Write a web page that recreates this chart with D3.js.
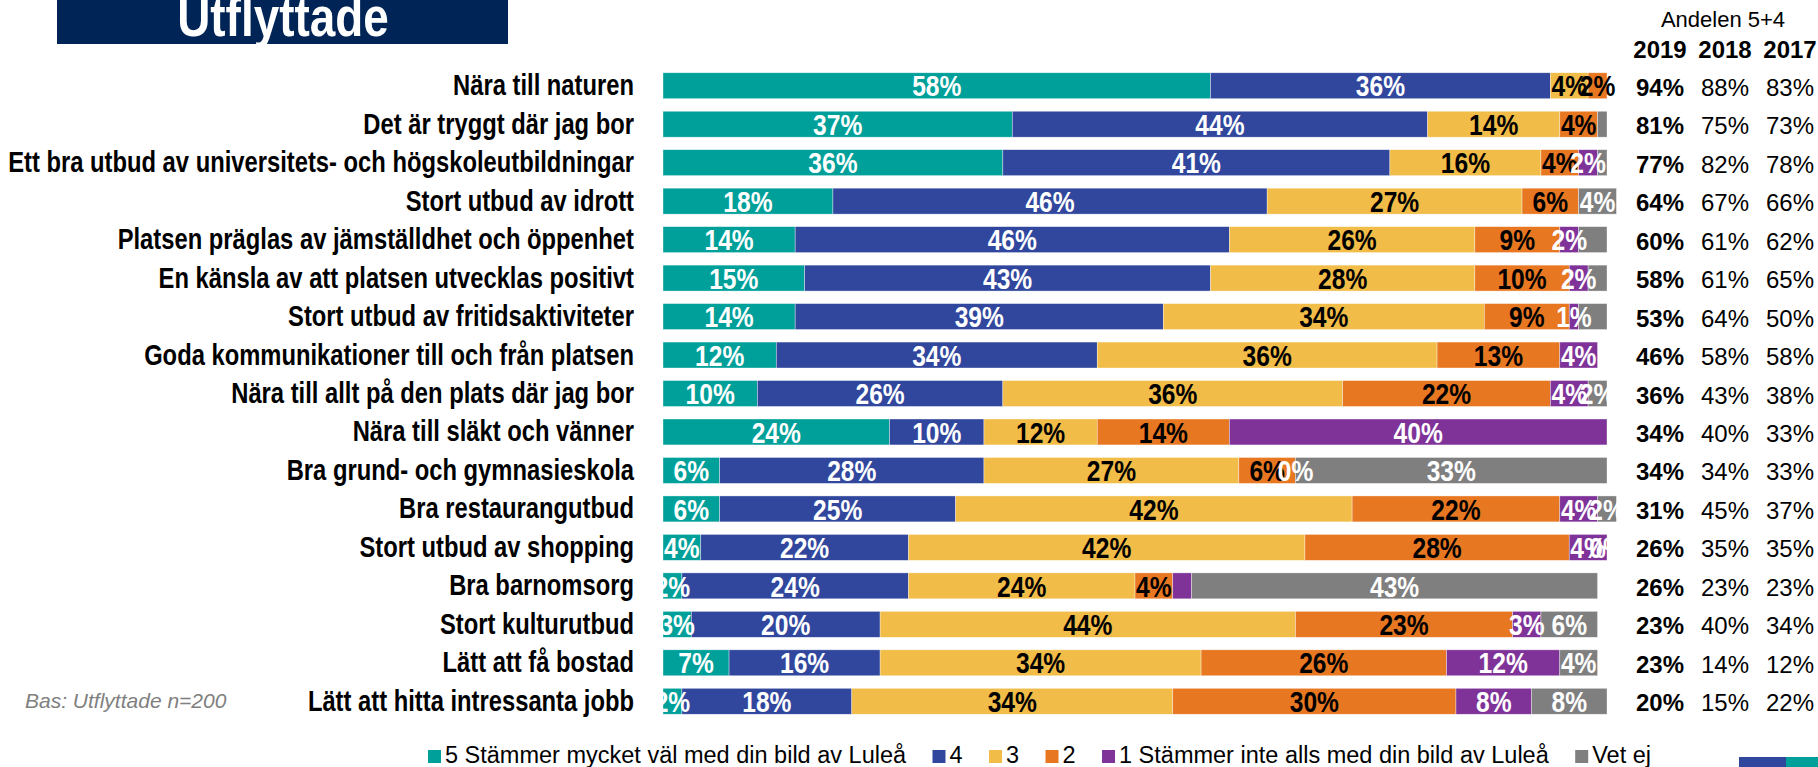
<!DOCTYPE html>
<html>
<head>
<meta charset="utf-8">
<script src="https://cdn.jsdelivr.net/npm/d3@7"></script>
<style>
  html, body { margin: 0; padding: 0; background: #ffffff; }
  svg { display: block; font-family: "Liberation Sans", Arial, sans-serif; }
</style>
</head>
<body>
<script>
// ---------- DATA ----------
const categories = [
  "Nära till naturen",
  "Det är tryggt där jag bor",
  "Ett bra utbud av universitets- och högskoleutbildningar",
  "Stort utbud av idrott",
  "Platsen präglas av jämställdhet och öppenhet",
  "En känsla av att platsen utvecklas positivt",
  "Stort utbud av fritidsaktiviteter",
  "Goda kommunikationer till och från platsen",
  "Nära till allt på den plats där jag bor",
  "Nära till släkt och vänner",
  "Bra grund- och gymnasieskola",
  "Bra restaurangutbud",
  "Stort utbud av shopping",
  "Bra barnomsorg",
  "Stort kulturutbud",
  "Lätt att få bostad",
  "Lätt att hitta intressanta jobb"
];
const seriesNames = [
  "5 Stämmer mycket väl med din bild av Luleå",
  "4",
  "3",
  "2",
  "1 Stämmer inte alls med din bild av Luleå",
  "Vet ej"
];
const s5    = [58, 37, 36, 18, 14, 15, 14, 12, 10, 24,  6,  6,  4,  2,  3,  7,  2];
const s4    = [36, 44, 41, 46, 46, 43, 39, 34, 26, 10, 28, 25, 22, 24, 20, 16, 18];
const s3    = [ 4, 14, 16, 27, 26, 28, 34, 36, 36, 12, 27, 42, 42, 24, 44, 34, 34];
const s2    = [ 2,  4,  4,  6,  9, 10,  9, 13, 22, 14,  6, 22, 28,  4, 23, 26, 30];
const s1    = [ 0,  0,  2,  0,  2,  2,  1,  4,  4, 40,  0,  4,  4,  2,  3, 12,  8];
const sVet  = [ 0,  1,  1,  4,  3,  2,  3,  0,  2,  0, 33,  2,  0, 43,  6,  4,  8];

// labels not printed in the original (category|series index)
const hiddenLabels = [
  "Det är tryggt där jag bor|5",
  "Ett bra utbud av universitets- och högskoleutbildningar|5",
  "Platsen präglas av jämställdhet och öppenhet|5",
  "En känsla av att platsen utvecklas positivt|5",
  "Stort utbud av fritidsaktiviteter|5",
  "Bra barnomsorg|4"
];
// zero values that still carry a "0%" label in the original
const zeroLabels = [
  "Bra grund- och gymnasieskola|4",
  "Stort utbud av shopping|5"
];

const yearHeaders = ["2019", "2018", "2017"];
const top2019 = [94, 81, 77, 64, 60, 58, 53, 46, 36, 34, 34, 31, 26, 26, 23, 23, 20];
const top2018 = [88, 75, 82, 67, 61, 61, 64, 58, 43, 40, 34, 45, 35, 23, 40, 14, 15];
const top2017 = [83, 73, 78, 66, 62, 65, 50, 58, 38, 33, 33, 37, 35, 23, 34, 12, 22];

const titleText = "Utflyttade";
const headerText = "Andelen 5+4";
const baseText = "Bas: Utflyttade n=200";

// ---------- STYLE ----------
const colors = ["#00A09A", "#31479E", "#F1BC47", "#E87722", "#7F3399", "#7F7F7F"];
const labelColors = ["#ffffff", "#ffffff", "#000000", "#000000", "#ffffff", "#ffffff"];

const W = 1818, H = 767;
const svg = d3.select("body").append("svg").attr("width", W).attr("height", H);

// title box
svg.append("rect").attr("x", 57).attr("y", 0).attr("width", 451).attr("height", 44).attr("fill", "#002456");
svg.append("text")
  .attr("transform", "translate(283,36) scale(0.82,1)")
  .attr("text-anchor", "middle")
  .attr("font-weight", "bold").attr("font-size", 56).attr("fill", "#ffffff")
  .text(titleText);

// scales
const x = d3.scaleLinear().domain([0, 100]).range([663, 1607]);
const y = d3.scaleBand().domain(categories).range([66.5, 720.5]).paddingInner(0.326).paddingOuter(0.163);

const valuesBySeries = [s5, s4, s3, s2, s1, sVet];
const table = categories.map((c, i) => {
  const o = { cat: c };
  valuesBySeries.forEach((arr, k) => o[k] = arr[i]);
  return o;
});
const stack = d3.stack().keys(d3.range(6));
const stacked = stack(table);

// bars
const barG = svg.append("g");
stacked.forEach((layer, k) => {
  barG.selectAll(null).data(layer).enter().append("rect")
    .attr("x", d => x(d[0]))
    .attr("y", d => y(d.data.cat))
    .attr("width", d => Math.max(0, x(d[1]) - x(d[0])))
    .attr("height", y.bandwidth())
    .attr("fill", colors[k])
    .attr("stroke", "#ffffff").attr("stroke-width", 0.6).attr("stroke-opacity", 0.6);
});

// value labels (clipped at left edge of plot)
svg.append("defs").append("clipPath").attr("id", "plotclip")
  .append("rect").attr("x", x(0)).attr("y", 0).attr("width", W).attr("height", H);
const labG = svg.append("g").attr("clip-path", "url(#plotclip)");
stacked.forEach((layer, k) => {
  const pts = layer.filter(d => {
    const key = d.data.cat + "|" + k;
    const v = d[1] - d[0];
    if (zeroLabels.includes(key)) return true;
    return v > 0 && !hiddenLabels.includes(key);
  });
  labG.selectAll(null).data(pts).enter().append("text")
    .attr("transform", d => `translate(${(x(d[0]) + x(d[1])) / 2},${y(d.data.cat) + y.bandwidth() / 2 + 10.7}) scale(0.82,1)`)
    .attr("text-anchor", "middle")
    .attr("font-weight", "bold").attr("font-size", 30)
    .attr("fill", labelColors[k])
    .text(d => (d[1] - d[0]) + "%");
});

// category labels
svg.append("g").selectAll(null).data(categories).enter().append("text")
  .attr("transform", d => `translate(634,${y(d) + y.bandwidth() / 2 + 9.5}) scale(0.82,1)`)
  .attr("text-anchor", "end")
  .attr("font-weight", "bold").attr("font-size", 29).attr("fill", "#000000")
  .text(d => d);

// right-hand columns
const colX = [1660, 1725, 1790];
svg.append("text").attr("x", 1723).attr("y", 27).attr("text-anchor", "middle")
  .attr("font-size", 22).attr("fill", "#000").text(headerText);
svg.append("g").selectAll(null).data(yearHeaders).enter().append("text")
  .attr("x", (d, i) => colX[i]).attr("y", 58).attr("text-anchor", "middle")
  .attr("font-weight", "bold").attr("font-size", 24).attr("fill", "#000").text(d => d);
[top2019, top2018, top2017].forEach((arr, j) => {
  svg.append("g").selectAll(null).data(arr).enter().append("text")
    .attr("x", colX[j])
    .attr("y", (d, i) => y(categories[i]) + y.bandwidth() / 2 + 10)
    .attr("text-anchor", "middle")
    .attr("font-weight", j === 0 ? "bold" : "normal")
    .attr("font-size", 24).attr("fill", "#000")
    .text(d => d + "%");
});

// base note
svg.append("text").attr("x", 25).attr("y", 708)
  .attr("font-style", "italic").attr("font-size", 21).attr("fill", "#808080").text(baseText);

// legend
const legG = svg.append("g");
const legStart = 428, legEnd = 1651, mk = 13, mkGap = 4, legBase = 763;
const temp = legG.selectAll(null).data(seriesNames).enter().append("text")
  .attr("font-size", 23.5).attr("fill", "#000").attr("y", legBase).text(d => d);
const widths = [];
temp.each(function () { widths.push(this.getComputedTextLength()); });
const totalFixed = d3.sum(widths) + seriesNames.length * (mk + mkGap);
const gap = (legEnd - legStart - totalFixed) / (seriesNames.length - 1);
let cx = legStart;
temp.each(function (d, i) {
  legG.append("rect").attr("x", cx).attr("y", legBase - mk).attr("width", mk).attr("height", mk).attr("fill", colors[i]);
  d3.select(this).attr("x", cx + mk + mkGap);
  cx += mk + mkGap + widths[i] + gap;
});

// partial logo in bottom-right corner
svg.append("rect").attr("x", 1739).attr("y", 757).attr("width", 47).attr("height", 10).attr("fill", "#31479E");
svg.append("rect").attr("x", 1786).attr("y", 757).attr("width", 32).attr("height", 10).attr("fill", "#00A09A");
</script>
</body>
</html>
